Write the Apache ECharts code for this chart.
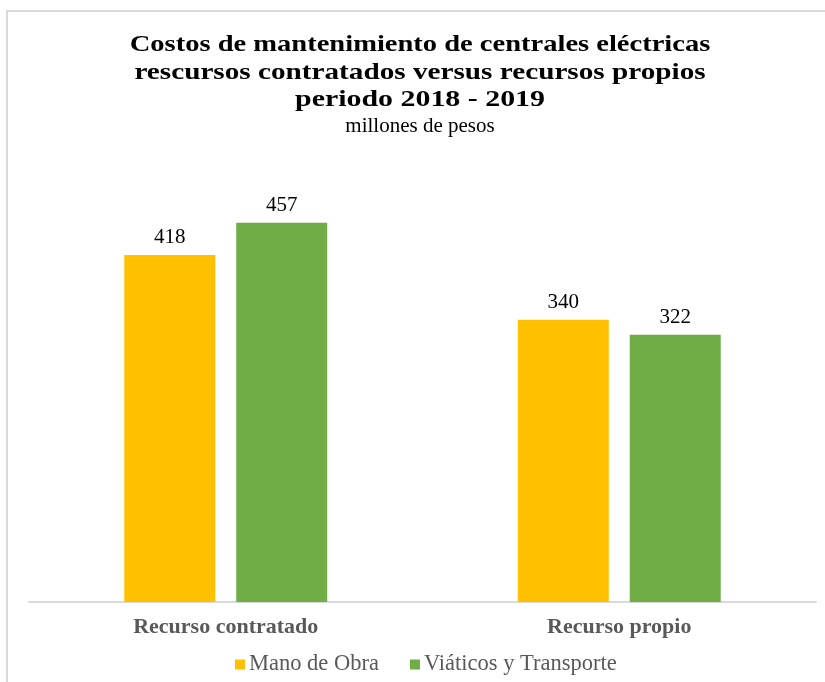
<!DOCTYPE html>
<html>
<head>
<meta charset="utf-8">
<script src="https://cdn.jsdelivr.net/npm/echarts@6/dist/echarts.min.js"></script>
<style>
html,body{margin:0;padding:0;background:#fff;}
#main{width:825px;height:682px;}
</style>
</head>
<body>
<div id="main"></div>
<script>
var categories = ['Recurso contratado', 'Recurso propio'];
var manoDeObra = [418, 340];
var viaticos = [457, 322];
var seriesNames = ['Mano de Obra', 'Viáticos y Transporte'];
var titleLines = ['Costos de mantenimiento de centrales eléctricas', 'rescursos contratados versus recursos propios', 'periodo 2018 - 2019'];
var subtitle = 'millones de pesos';

var chart = echarts.init(document.getElementById('main'));
var serif = '"Liberation Serif", "Times New Roman", serif';
var lineY = [45, 73, 100];
var scales = [1.24, 1.27, 1.3];
var graphics = [{
  type: 'rect',
  shape: {x: 7, y: 11, width: 900, height: 800},
  style: {fill: 'none', stroke: '#d9d9d9', lineWidth: 2},
  silent: true
}];
titleLines.forEach(function (t, i) {
  graphics.push({
    type: 'text', x: 420, y: lineY[i], scaleX: scales[i], silent: true,
    style: {text: t, font: 'bold 23px ' + serif, fill: '#000', textAlign: 'center', textVerticalAlign: 'middle'}
  });
});
graphics.push({
  type: 'text', x: 420, y: 126, silent: true,
  style: {text: subtitle, font: '21px ' + serif, fill: '#000', textAlign: 'center', textVerticalAlign: 'middle'}
});

chart.setOption({
  backgroundColor: '#fff',
  animation: false,
  graphic: graphics,
  legend: {
    top: 648,
    left: 230,
    itemWidth: 10,
    itemHeight: 10,
    itemGap: 31,
    icon: 'rect',
    textStyle: {fontFamily: serif, fontSize: 22.5, color: '#595959', padding: [0, 0, 0, -1]},
    data: seriesNames
  },
  grid: {left: 29, right: 9, top: 187, bottom: 80},
  xAxis: {
    type: 'category',
    data: categories,
    axisLine: {lineStyle: {color: '#d9d9d9', width: 2}},
    axisTick: {show: false},
    axisLabel: {fontFamily: serif, fontWeight: 'bold', fontSize: 22, color: '#595959', margin: 14}
  },
  yAxis: {
    type: 'value',
    min: 0,
    max: 500,
    show: false,
    splitLine: {show: false}
  },
  series: [{
    name: seriesNames[0],
    type: 'bar',
    data: manoDeObra,
    barWidth: 91,
    barGap: '23%',
    itemStyle: {color: '#FFC000'},
    label: {show: true, position: 'top', distance: 7, fontFamily: serif, fontSize: 21, color: '#000'}
  }, {
    name: seriesNames[1],
    type: 'bar',
    data: viaticos,
    barWidth: 91,
    barGap: '23%',
    itemStyle: {color: '#70AD47'},
    label: {show: true, position: 'top', distance: 7, fontFamily: serif, fontSize: 21, color: '#000'}
  }]
});
</script>
</body>
</html>
